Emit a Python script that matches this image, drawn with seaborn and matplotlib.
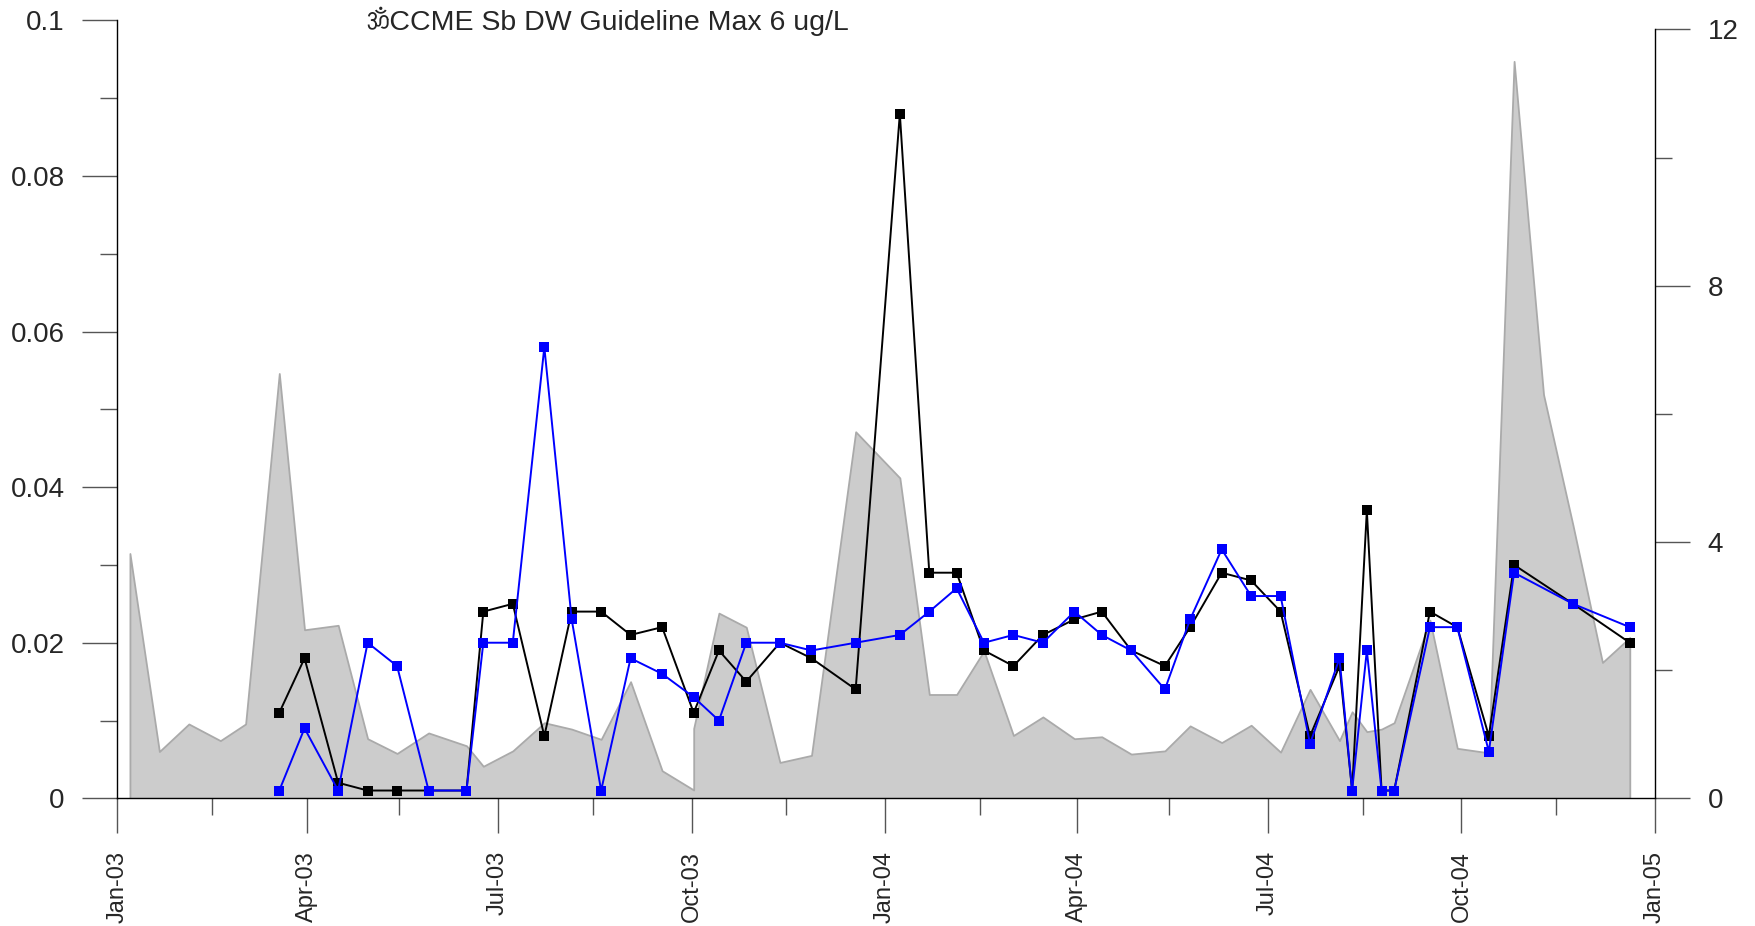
import pandas as pd
import seaborn as sns
import matplotlib.pyplot as plt
import matplotlib.dates as mdates
from matplotlib.ticker import MultipleLocator, FuncFormatter
from matplotlib import font_manager, ft2font

# ==========================================
# DADOS
# ==========================================
# área cinza (eixo direito)
area_dates = ['2003-01-07', '2003-01-21', '2003-02-04', '2003-02-19', '2003-03-03',
              '2003-03-19', '2003-03-31', '2003-04-16', '2003-04-30', '2003-05-14',
              '2003-05-29', '2003-06-16', '2003-06-24', '2003-07-08', '2003-07-23',
              '2003-08-05', '2003-08-19', '2003-09-02', '2003-09-17', '2003-10-02',
              '2003-10-02', '2003-10-14', '2003-10-27', '2003-11-12', '2003-11-27',
              '2003-12-18', '2004-01-08', '2004-01-22', '2004-02-04', '2004-02-17',
              '2004-03-02', '2004-03-16', '2004-03-31', '2004-04-13', '2004-04-27',
              '2004-05-13', '2004-05-25', '2004-06-09', '2004-06-23', '2004-07-07',
              '2004-07-21', '2004-08-04', '2004-08-10', '2004-08-17', '2004-08-24',
              '2004-08-30', '2004-09-16', '2004-09-29', '2004-10-14', '2004-10-26',
              '2004-11-09', '2004-11-23', '2004-12-07', '2004-12-20']
area_values = [3.82, 0.73, 1.16, 0.90, 1.16,
               6.63, 2.63, 2.70, 0.93, 0.70,
               1.02, 0.82, 0.50, 0.74, 1.18,
               1.08, 0.92, 1.82, 0.43, 0.13,
               1.09, 2.89, 2.67, 0.56, 0.67,
               5.72, 5.00, 1.62, 1.62, 2.30,
               0.98, 1.27, 0.93, 0.96, 0.69,
               0.74, 1.13, 0.87, 1.14, 0.72,
               1.70, 0.90, 1.35, 1.04, 1.08,
               1.18, 2.78, 0.78, 0.71, 11.5,
               6.30, 4.26, 2.12, 2.51]

# séries com marcadores (eixo esquerdo)
sample_dates = ['2003-03-19', '2003-03-31', '2003-04-16', '2003-04-30', '2003-05-14',
                '2003-05-29', '2003-06-16', '2003-06-24', '2003-07-08', '2003-07-23',
                '2003-08-05', '2003-08-19', '2003-09-02', '2003-09-17', '2003-10-02',
                '2003-10-14', '2003-10-27', '2003-11-12', '2003-11-27', '2003-12-18',
                '2004-01-08', '2004-01-22', '2004-02-04', '2004-02-17', '2004-03-02',
                '2004-03-16', '2004-03-31', '2004-04-13', '2004-04-27', '2004-05-13',
                '2004-05-25', '2004-06-09', '2004-06-23', '2004-07-07', '2004-07-21',
                '2004-08-04', '2004-08-10', '2004-08-17', '2004-08-24', '2004-08-30',
                '2004-09-16', '2004-09-29', '2004-10-14', '2004-10-26', '2004-11-23',
                '2004-12-20']
black_values = [0.011, 0.018, 0.002, 0.001, 0.001,
                0.001, 0.001, 0.024, 0.025, 0.008,
                0.024, 0.024, 0.021, 0.022, 0.011,
                0.019, 0.015, 0.020, 0.018, 0.014,
                0.088, 0.029, 0.029, 0.019, 0.017,
                0.021, 0.023, 0.024, 0.019, 0.017,
                0.022, 0.029, 0.028, 0.024, 0.008,
                0.017, 0.001, 0.037, 0.001, 0.001,
                0.024, 0.022, 0.008, 0.030, 0.025,
                0.020]
blue_values = [0.001, 0.009, 0.001, 0.020, 0.017,
               0.001, 0.001, 0.020, 0.020, 0.058,
               0.023, 0.001, 0.018, 0.016, 0.013,
               0.010, 0.020, 0.020, 0.019, 0.020,
               0.021, 0.024, 0.027, 0.020, 0.021,
               0.020, 0.024, 0.021, 0.019, 0.014,
               0.023, 0.032, 0.026, 0.026, 0.007,
               0.018, 0.001, 0.019, 0.001, 0.001,
               0.022, 0.022, 0.006, 0.029, 0.025,
               0.022]

titulo = "\u0950CCME Sb DW Guideline Max 6 ug/L"

area = pd.DataFrame({'data': pd.to_datetime(area_dates), 'valor': area_values})
pontos = pd.DataFrame({'data': pd.to_datetime(sample_dates),
                       'preto': black_values, 'azul': blue_values})

# ==========================================
# ESTILO
# ==========================================
sns.set_style("ticks")
plt.rcParams['font.family'] = ['Liberation Sans', 'DejaVu Sans']

# procura uma fonte que tenha o glifo "ॐ" do título
om_fonts = []
for f in font_manager.fontManager.ttflist:
    try:
        if 0x0950 in ft2font.FT2Font(f.fname).get_charmap():
            om_fonts.append(f.name)
    except Exception:
        pass
om_fonts = sorted(set(om_fonts))[:1]

fig = plt.figure(figsize=(17.56, 9.26), dpi=100)
ax = fig.add_axes([0.0668, 0.1379, 0.8757, 0.8401])
ax2 = ax.twinx()

# área cinza no eixo direito
ax2.fill_between(area['data'], 0, area['valor'], facecolor='#cccccc',
                 edgecolor='#aaaaaa', linewidth=1.3)

# linhas com marcadores quadrados
sns.lineplot(data=pontos, x='data', y='preto', ax=ax, color='black', linewidth=1.4,
             marker='s', markersize=7, markeredgewidth=0, zorder=3)
sns.lineplot(data=pontos, x='data', y='azul', ax=ax, color='#0000ff', linewidth=1.4,
             marker='s', markersize=7, markeredgewidth=0, zorder=4)

ax.set_zorder(2)
ax2.set_zorder(1)
ax.patch.set_visible(False)

# eixos
ax.set_xlim(pd.Timestamp('2003-01-01'), pd.Timestamp('2005-01-01'))
ax.set_ylim(0, 0.1)
ax2.set_ylim(0, 12.14)

ax.xaxis.set_major_locator(mdates.MonthLocator(bymonth=[1, 4, 7, 10]))
ax.xaxis.set_major_formatter(mdates.DateFormatter('%b-%y'))
ax.xaxis.set_minor_locator(mdates.MonthLocator(bymonth=[2, 5, 8, 11], bymonthday=15))
ax.yaxis.set_major_locator(MultipleLocator(0.02))
ax.yaxis.set_minor_locator(MultipleLocator(0.01))
ax.yaxis.set_major_formatter(FuncFormatter(lambda v, p: '0' if v == 0 else f"{v:g}"))
ax2.yaxis.set_major_locator(MultipleLocator(4))
ax2.yaxis.set_minor_locator(MultipleLocator(2))

ax.set_xlabel("")
ax.set_ylabel("")

for a in (ax, ax2):
    a.spines['top'].set_visible(False)
ax.spines['right'].set_visible(False)
ax2.spines['left'].set_visible(False)
ax2.spines['bottom'].set_visible(False)
ax2.spines['right'].set_bounds(0, 12)
for s in ('left', 'bottom'):
    ax.spines[s].set_color('black')
    ax.spines[s].set_linewidth(1.0)
ax2.spines['right'].set_color('black')
ax2.spines['right'].set_linewidth(1.0)

ax.tick_params(axis='y', which='major', length=25, width=1, color='#555555',
               labelsize=20, pad=13)
ax.tick_params(axis='y', which='minor', length=12.5, width=1, color='#555555')
ax.tick_params(axis='x', which='major', length=25, width=1, color='#555555',
               labelsize=17, pad=13, labelrotation=90)
ax.tick_params(axis='x', which='minor', length=12.5, width=1, color='#555555')
ax2.tick_params(axis='y', which='major', length=25, width=1, color='#555555',
                labelsize=20, pad=13)
ax2.tick_params(axis='y', which='minor', length=12.5, width=1, color='#555555')

fig.text(0.209, 0.977, titulo, fontsize=20.5, va='center', ha='left',
         family=['Liberation Sans'] + om_fonts + ['DejaVu Sans'])

fig.savefig("out.png", dpi=100)
